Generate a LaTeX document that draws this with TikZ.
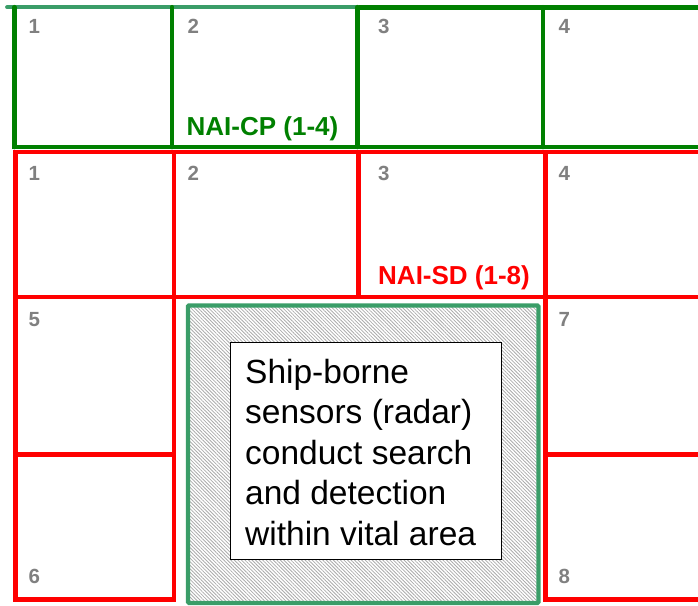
\documentclass[tikz,border=0pt]{standalone}
\usepackage{fontspec}
\setmainfont{Liberation Sans}
\usetikzlibrary{patterns.meta}
\definecolor{cpgreen}{RGB}{0,128,0}
\definecolor{sdred}{RGB}{255,0,0}
\definecolor{seagrn}{RGB}{58,157,104}
\definecolor{numgray}{RGB}{128,128,128}
\begin{document}
\begin{tikzpicture}[x=1pt,y=-1pt,
  cpline/.style={draw=cpgreen,line width=4.6pt,line cap=round},
  sdline/.style={draw=sdred,line width=4.7pt},
  cellnum/.style={font=\fontsize{20.5}{22}\selectfont\bfseries,text=numgray,inner sep=0pt,anchor=base west},
  nailabel/.style={font=\fontsize{26}{28}\selectfont\bfseries,inner sep=0pt,anchor=base west},
  vitalbox/.style={draw=seagrn,line width=4.2pt,rounded corners=1pt,
    pattern={Lines[angle=-45,distance=2.5pt,line width=0.8pt]},pattern color=black!33,
    inner sep=0pt,anchor=north west},
  infobox/.style={draw=black,line width=1pt,fill=white,inner sep=0pt,anchor=north west},
  infotext/.style={font=\fontsize{33.5}{40.5}\selectfont,align=left,inner sep=0pt,anchor=base west}
]
\useasboundingbox (0,0) rectangle (698,605);

% ---- NAI-CP grid (green)
\draw[draw=seagrn,line width=3.8pt,line cap=round] (7,7.2) -- (359,7.2);
\draw[cpline,line cap=butt] (359,7.2) -- (698,7.2);
\draw[cpline] (14.3,7.2) -- (14.3,147);
\draw[cpline] (172,7.2) -- (172,147);
\draw[cpline] (357.3,7.2) -- (357.3,147);
\draw[cpline] (543,7.2) -- (543,147);
\draw[cpline,line cap=butt] (12,147) -- (698,147);

% ---- NAI-SD grid (red)
\draw[sdline] (13.4,152) -- (698,152);
\draw[sdline] (13.4,297) -- (698,297);
\draw[sdline] (15.8,152) -- (15.8,601.8);
\draw[sdline] (174,152) -- (174,601.8);
\draw[sdline] (358.2,152) -- (358.2,297);
\draw[sdline] (545.5,152) -- (545.5,601.8);
\draw[sdline] (15.8,454.2) -- (174,454.2);
\draw[sdline] (545.5,454.2) -- (698,454.2);
\draw[sdline] (13.4,599.5) -- (176.4,599.5);
\draw[sdline] (543.1,599.5) -- (698,599.5);

% ---- vital area
\node (vital) [vitalbox,minimum width=350.5pt,minimum height=297.5pt] at (187.5,305) {};
\node (info) [infobox,minimum width=271pt,minimum height=217pt] at (230,342) {};
\node (infotxt) [infotext] at (245,545) {Ship-borne\\sensors (radar)\\conduct search\\and detection\\within vital area};

% ---- cell numbers, NAI-CP
\node (cp1) [cellnum] at (28.5,33) {1};
\node (cp2) [cellnum] at (187.3,33) {2};
\node (cp3) [cellnum] at (378,33) {3};
\node (cp4) [cellnum] at (558.5,33) {4};
% ---- cell numbers, NAI-SD
\node (sd1) [cellnum] at (28.5,180) {1};
\node (sd2) [cellnum] at (187.3,180) {2};
\node (sd3) [cellnum] at (378,180) {3};
\node (sd4) [cellnum] at (558.5,180) {4};
\node (sd5) [cellnum] at (28.5,326) {5};
\node (sd6) [cellnum] at (28.5,583) {6};
\node (sd7) [cellnum] at (558.5,326) {7};
\node (sd8) [cellnum] at (558.5,583) {8};

% ---- labels
\node (cplabel) [nailabel,text=cpgreen] at (186.5,135) {NAI-CP (1-4)};
\node (sdlabel) [nailabel,text=sdred] at (378,284) {NAI-SD (1-8)};
\end{tikzpicture}
\end{document}
